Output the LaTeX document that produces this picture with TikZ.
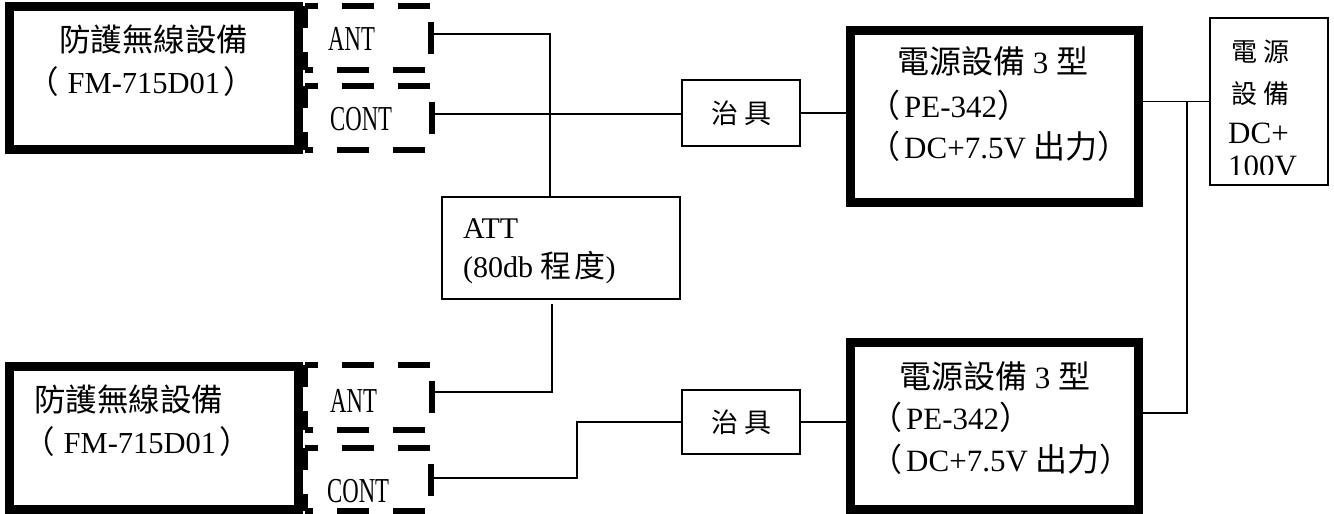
\documentclass[tikz,border=0pt]{standalone}
\usepackage{fontspec}
\setmainfont{Liberation Serif}
\newfontfamily\cjk{Noto Sans CJK TC}
\newfontfamily\narrowfont[FakeStretch=0.65]{Liberation Serif}
\usetikzlibrary{calc}
\begin{document}
\begin{tikzpicture}[x=1pt,y=-1pt,
  thickbox/.style={draw, line width=9pt, rectangle, inner sep=0pt},
  thinbox/.style={draw, line width=1.8pt, rectangle, inner sep=0pt},
  portbox/.style={draw=none, rectangle, inner sep=0pt},
  wire/.style={line width=1.7pt},
  dashside/.style={line width=6pt, dash pattern=on 32pt off 24pt},
  txt/.style={anchor=base west, inner sep=0pt, font=\fontsize{30.5}{34}\selectfont},
  ptxt/.style={anchor=base west, inner sep=0pt, font=\fontsize{31}{34}\selectfont},
  cjktxt/.style={anchor=base west, inner sep=0pt, font=\cjk\fontsize{31.5}{34}\selectfont},
  porttxt/.style={anchor=base west, inner sep=0pt, font=\narrowfont\fontsize{35}{35}\selectfont}
]
\useasboundingbox (0,0) rectangle (1334,514);

% ---- boxes
\node[thickbox, minimum width=289pt, minimum height=143.5pt] (dev1) at (154,77.75) {};
\node[thickbox, minimum width=289pt, minimum height=143pt] (dev2) at (154,438) {};
\node[thickbox, minimum width=288pt, minimum height=172pt] (pwr1) at (994,116.5) {};
\node[thickbox, minimum width=288pt, minimum height=167pt] (pwr2) at (994,426) {};
\node[thinbox, minimum width=118pt, minimum height=66pt, font=\cjk\fontsize{27}{27}\selectfont] (jig1) at (741,113) {治\hspace{6pt}具};
\node[thinbox, minimum width=118pt, minimum height=64pt, font=\cjk\fontsize{27}{27}\selectfont] (jig2) at (741,422) {治\hspace{6pt}具};
\node[thinbox, line width=1.6pt, minimum width=238pt, minimum height=102pt] (att) at (561,248) {};
\node[thinbox, line width=1.6pt, minimum width=118pt, minimum height=167pt] (src) at (1269,101.5) {};

% ---- connector blocks (dashed outlines)
\node[portbox, minimum width=126pt, minimum height=64pt] (ant1) at (368,38) {};
\node[portbox, minimum width=127pt, minimum height=64pt] (cont1) at (368.5,118) {};
\node[portbox, minimum width=127pt, minimum height=65pt] (ant2) at (368.5,397.5) {};
\node[portbox, minimum width=126pt, minimum height=63pt] (cont2) at (368,479.5) {};
\foreach \b in {ant1,cont1,ant2,cont2}{
  \draw[dashside, dash phase=19pt] (\b.north west) -- (\b.north east);
  \draw[dashside, dash phase=24pt] (\b.south west) -- (\b.south east);
  \draw[dashside, dash phase=40pt] (\b.north east) -- (\b.south east);
  \draw[dashside, dash phase=10pt] (\b.north west) -- (\b.south west);
}

% ---- texts
\node[cjktxt] (d1a) at (59,51) {防護無線設備};
\node[txt] (d1b) at (27,93) {{\cjk\fontsize{31.5}{34}\selectfont （}\hspace{9pt}FM-715D01\hspace{3pt}{\cjk\fontsize{31.5}{34}\selectfont ）}};
\node[cjktxt] (d2a) at (34,411) {防護無線設備};
\node[txt] (d2b) at (23,453) {{\cjk\fontsize{31.5}{34}\selectfont （}\hspace{9pt}FM-715D01\hspace{3pt}{\cjk\fontsize{31.5}{34}\selectfont ）}};

\node[porttxt] (t1) at (328,50) {ANT};
\node[porttxt] (t2) at (330,130) {CONT};
\node[porttxt] (t3) at (330,412) {ANT};
\node[porttxt] (t4) at (327,502) {CONT};

\node[ptxt] (p1a) at (897,73) {{\cjk\fontsize{32}{34}\selectfont 電源設備} 3 {\cjk\fontsize{32}{34}\selectfont 型}};
\node[ptxt] (p1b) at (868,117) {{\cjk\fontsize{32}{34}\selectfont （}\hspace{4pt}PE-342{\cjk\fontsize{32}{34}\selectfont ）}};
\node[ptxt] (p1c) at (868,158) {{\cjk\fontsize{32}{34}\selectfont （}\hspace{4pt}DC+7.5V {\cjk\fontsize{32}{34}\selectfont 出力）}};
\node[ptxt] (p2a) at (899,388) {{\cjk\fontsize{32}{34}\selectfont 電源設備} 3 {\cjk\fontsize{32}{34}\selectfont 型}};
\node[ptxt] (p2b) at (870,429) {{\cjk\fontsize{32}{34}\selectfont （}\hspace{4pt}PE-342{\cjk\fontsize{32}{34}\selectfont ）}};
\node[ptxt] (p2c) at (870,471) {{\cjk\fontsize{32}{34}\selectfont （}\hspace{4pt}DC+7.5V {\cjk\fontsize{32}{34}\selectfont 出力）}};

\node[txt, font=\fontsize{30}{34}\selectfont] (atta) at (463,238) {ATT};
\node[txt, font=\fontsize{30}{34}\selectfont] (attb) at (463,277) {(80db {\cjk\fontsize{31}{34}\selectfont 程\hspace{3pt}度})};

\begin{scope}
  \clip (1211,19) rectangle (1327,174);
  \node[txt, font=\cjk\fontsize{26}{26}\selectfont] (s1) at (1231,61) {電\hspace{6pt}源};
  \node[txt, font=\cjk\fontsize{26}{26}\selectfont] (s2) at (1231,103) {設\hspace{6pt}備};
  \node[txt, font=\fontsize{31}{31}\selectfont] (s3) at (1228,143) {DC+};
  \node[txt, font=\fontsize{31}{31}\selectfont] (s4) at (1228,176) {100V};
\end{scope}

% ---- wire ports
\coordinate (a1p) at (431,34);
\coordinate (c1p) at (431,114);
\coordinate (a2p) at (431,392);
\coordinate (c2p) at (431,478);
\coordinate (topx) at (550,0);
\coordinate (attbot) at (552,304);
\coordinate (bendx) at (577,0);
\coordinate (jn) at (1187,101.5);
\coordinate (p2in) at (1140,413);

% ---- wires
\draw[wire] (a1p) -| (topx |- att.north);
\draw[wire] (c1p) -- (c1p -| jig1.west);
\draw[wire] (jig1.east) -- (jig1.east -| pwr1.west);
\draw[wire] (src.west) -- (src.west -| pwr1.east);
\draw[wire] (jn) |- (p2in);
\draw[wire] (attbot) |- (a2p);
\draw[wire] (c2p) -- (c2p -| bendx) |- (jig2.west);
\draw[wire] (jig2.east) -- (jig2.east -| pwr2.west);
\end{tikzpicture}
\end{document}
